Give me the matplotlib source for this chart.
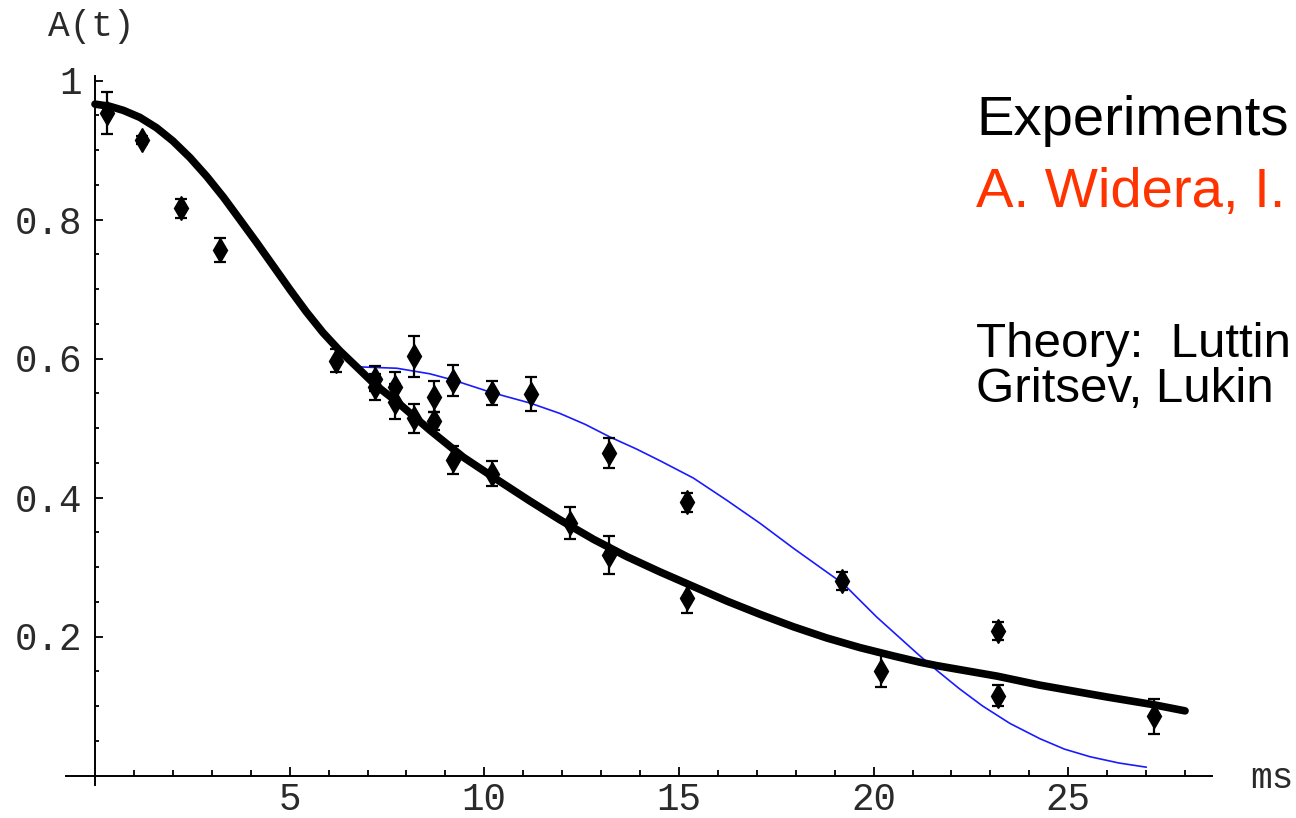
import numpy as np
import matplotlib
matplotlib.use("Agg")
import matplotlib.pyplot as plt
from matplotlib.ticker import FixedLocator, FixedFormatter

# --- measured points (t in ms, A(t), error) ---
t_ms = [0.3, 1.2, 2.2, 3.2, 6.2, 7.2, 7.2, 7.7, 7.7, 8.2, 8.2, 8.7, 8.7, 9.2, 9.2,
        10.2, 10.2, 11.2, 12.2, 13.2, 13.2, 15.2, 15.2, 19.2, 20.2, 23.2, 23.2, 27.2]
amp = [0.953, 0.914, 0.816, 0.756, 0.597, 0.571, 0.559, 0.559, 0.538, 0.603, 0.514,
       0.545, 0.510, 0.568, 0.454, 0.550, 0.434, 0.549, 0.364, 0.464, 0.317, 0.393,
       0.255, 0.280, 0.151, 0.208, 0.115, 0.085]
amp_err = [0.030, 0.006, 0.014, 0.017, 0.016, 0.018, 0.018, 0.022, 0.025, 0.030, 0.021,
           0.022, 0.013, 0.022, 0.020, 0.017, 0.018, 0.024, 0.023, 0.021, 0.027, 0.014,
           0.021, 0.013, 0.024, 0.013, 0.015, 0.025]

# --- theory curves ---
black_t = [0.0, 0.37, 0.73, 1.15, 1.58, 2.0, 2.44, 2.87, 3.30, 3.72, 4.15, 4.58, 5.01,
           5.43, 5.86, 6.29, 6.72, 7.2, 7.75, 8.6, 9.46, 10.32, 11.17, 11.94, 12.80,
           13.66, 14.51, 15.37, 16.23, 17.08, 17.94, 18.79, 19.65, 20.51, 21.19, 21.63,
           23.17, 24.27, 25.99, 27.18, 28.0]
black_A = [0.966, 0.963, 0.957, 0.947, 0.932, 0.913, 0.889, 0.862, 0.832, 0.800, 0.767,
           0.733, 0.699, 0.667, 0.637, 0.611, 0.588, 0.562, 0.538, 0.497, 0.458, 0.426,
           0.395, 0.368, 0.340, 0.315, 0.293, 0.272, 0.251, 0.232, 0.214, 0.198, 0.184,
           0.172, 0.163, 0.158, 0.143, 0.130, 0.113, 0.102, 0.093]

blue_t = [6.76, 7.75, 8.6, 9.2, 10.19, 11.17, 11.94, 12.6, 13.23, 13.9, 14.51, 15.37,
          16.23, 17.08, 17.94, 18.79, 19.22, 20.08, 21.19, 21.63, 22.2, 22.8, 23.5,
          24.27, 24.9, 25.56, 26.3, 27.0]
blue_A = [0.588, 0.586, 0.578, 0.569, 0.551, 0.536, 0.521, 0.505, 0.487, 0.470, 0.453,
          0.428, 0.396, 0.363, 0.327, 0.293, 0.276, 0.228, 0.172, 0.151, 0.125, 0.100,
          0.075, 0.053, 0.038, 0.027, 0.018, 0.012]

x_major = [5, 10, 15, 20, 25]
x_labels = ['5', '10', '15', '20', '25']
y_major = [0.2, 0.4, 0.6, 0.8, 1.0]
y_labels = ['0.2', '0.4', '0.6', '0.8', '1']

W, H = 1296, 818
fig = plt.figure(figsize=(W / 100, H / 100), dpi=100)
ax = fig.add_axes([0, 0, 1, 1])
ax.set_xlim(-95 / 38.93, (W - 95) / 38.93)
ax.set_ylim((775.5 - H) / 695, 775.5 / 695)

ax.plot(blue_t, blue_A, color='#1a1aff', lw=1.2, zorder=2)
ax.plot(black_t, black_A, color='black', lw=5.5, solid_capstyle='round',
        solid_joinstyle='round', zorder=3)
ax.errorbar(t_ms, amp, yerr=amp_err, fmt='d', color='black', ms=12,
            elinewidth=1.6, capsize=4.5, capthick=1.6, zorder=4)

for s in ['top', 'right']:
    ax.spines[s].set_visible(False)
ax.spines['left'].set_position(('data', 0))
ax.spines['bottom'].set_position(('data', 0))
ax.spines['left'].set_bounds(-0.013, 1.007)
ax.spines['bottom'].set_bounds(-0.75, 28.7)
for s in ['left', 'bottom']:
    ax.spines[s].set_linewidth(1.4)

mono = 'Liberation Mono'
ax.xaxis.set_major_locator(FixedLocator(x_major))
ax.xaxis.set_major_formatter(FixedFormatter(x_labels))
ax.xaxis.set_minor_locator(FixedLocator([v for v in range(1, 29) if v % 5]))
ax.yaxis.set_major_locator(FixedLocator(y_major))
ax.yaxis.set_major_formatter(FixedFormatter(y_labels))
ax.yaxis.set_minor_locator(FixedLocator([round(0.05 * k, 2) for k in range(1, 20) if k % 4]))

ax.tick_params(axis='x', which='major', direction='in', length=6.5, width=1.3,
               pad=5, labelsize=27, labelcolor='#2a2a2a')
ax.tick_params(axis='x', which='minor', direction='in', length=4.5, width=1.3)
ax.tick_params(axis='y', which='major', direction='in', length=6, width=1.3,
               pad=9.5, labelsize=27, labelcolor='#2a2a2a')
ax.tick_params(axis='y', which='minor', direction='in', length=3.2, width=1.3)
for lab in ax.get_xticklabels() + ax.get_yticklabels():
    lab.set_fontfamily(mono)

fig.text(48 / W, 1 - 27 / H, 'A(t)', fontsize=26, family=mono, color='#2a2a2a',
         ha='left', va='center')
fig.text(1250 / W, 1 - 778 / H, 'ms', fontsize=26, family=mono, color='#2a2a2a',
         ha='left', va='center')

# side notes (the reference crops these at the right edge; keep the visible part)
sans = 'Liberation Sans'
fig.text(976 / W, 1 - 135 / H, 'Experiments', fontsize=40.5, family=sans,
         color='black', va='baseline')
fig.text(976 / W, 1 - 207 / H, 'A. Widera, I.', fontsize=40.5, family=sans,
         color='#ff3300', va='baseline')
fig.text(976 / W, 1 - 357 / H, 'Theory:  Luttin', fontsize=35.5, family=sans,
         color='black', va='baseline')
fig.text(976 / W, 1 - 402 / H, 'Gritsev, Lukin', fontsize=35.5, family=sans,
         color='black', va='baseline')

fig.savefig('out.png', dpi=100)
